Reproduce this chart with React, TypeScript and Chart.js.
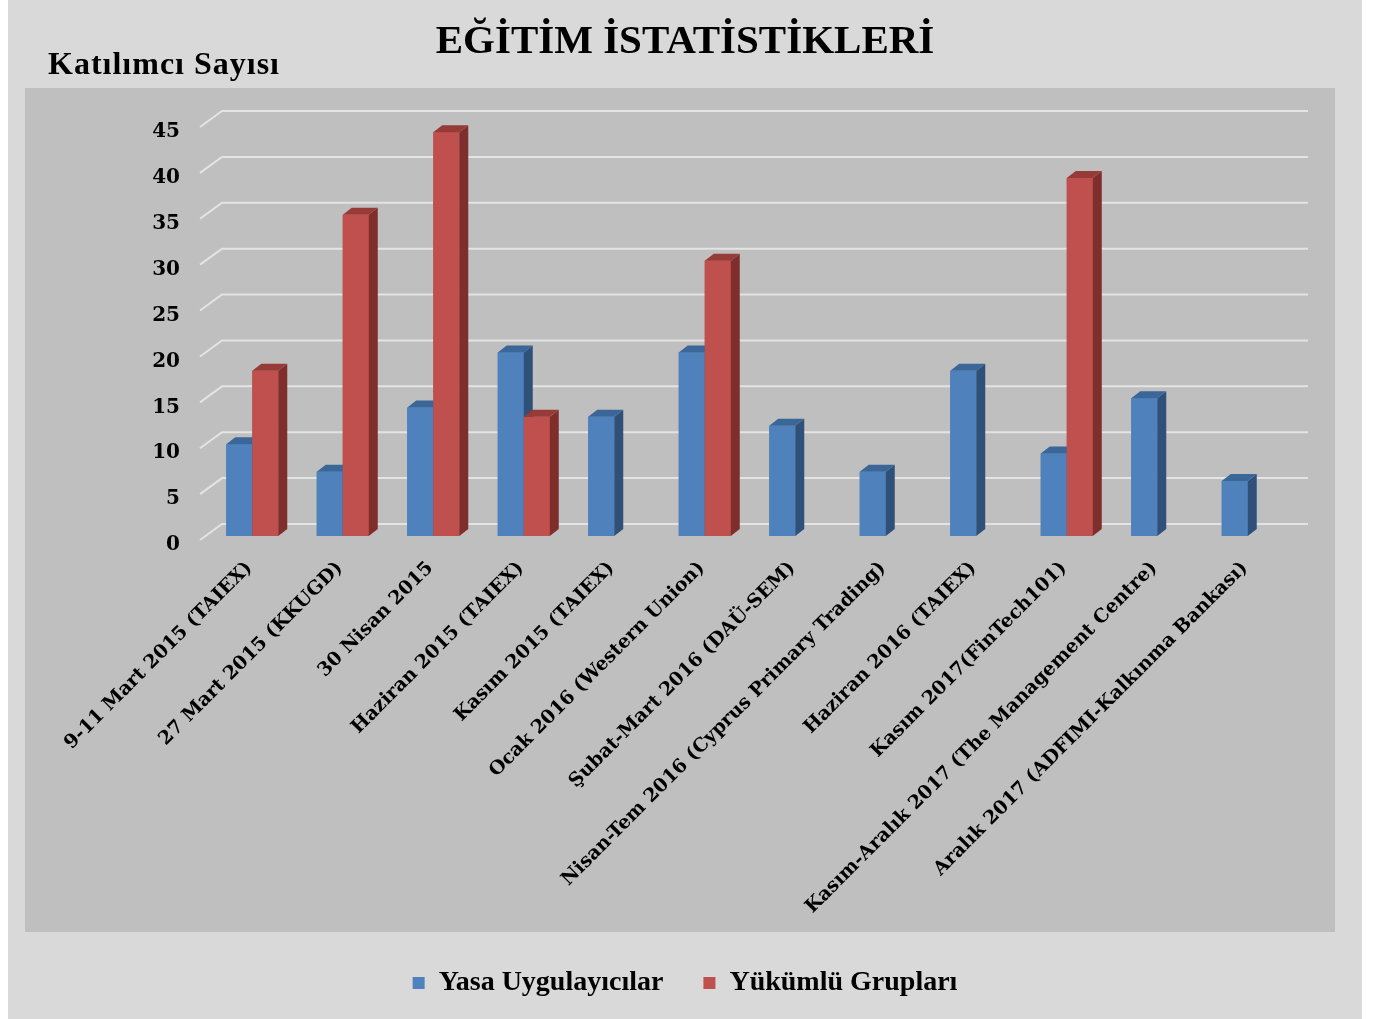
import React, { useEffect, useRef } from 'react';
import { Chart, registerables } from 'chart.js';

Chart.register(...registerables);

const categories = [
  '9-11 Mart 2015 (TAIEX)',
  '27 Mart 2015 (KKUGD)',
  '30 Nisan 2015',
  'Haziran 2015 (TAIEX)',
  'Kasım 2015 (TAIEX)',
  'Ocak 2016 (Western Union)',
  'Şubat-Mart 2016 (DAÜ-SEM)',
  'Nisan-Tem 2016 (Cyprus Primary Trading)',
  'Haziran 2016 (TAIEX)',
  'Kasım 2017(FinTech101)',
  'Kasım-Aralık 2017 (The Management Centre)',
  'Aralık 2017 (ADFIMI-Kalkınma Bankası)',
];
const yasaUygulayicilar = [10, 7, 14, 20, 13, 20, 12, 7, 18, 9, 15, 6];
const yukumluGruplari = [18, 35, 44, 13, null, 30, null, null, null, 39, null, null];
const seriesNames = ['Yasa Uygulayıcılar', 'Yükümlü Grupları'];
const yMin = 0;
const yMax = 45;
const yStep = 5;
const titleText = 'EĞİTİM İSTATİSTİKLERİ';
const axisTitleText = 'Katılımcı Sayısı';

const FRONT = ['#4f81bd', '#c0504d'];
const SIDE = ['#2f5079', '#7f2e2c'];
const TOP = ['#3b6698', '#973b38'];
const DX = 9;
const DY = 7;

const threeDPlugin = {
  id: 'threeD',
  beforeDraw(chart: any) {
    const { ctx } = chart;
    ctx.save();
    ctx.fillStyle = '#d9d9d9';
    ctx.fillRect(0, 0, chart.width, chart.height);
    ctx.fillStyle = '#bfbfbf';
    ctx.fillRect(17, 88, 1310, 844);
    ctx.restore();
  },
  beforeDatasetsDraw(chart: any) {
    const { ctx, chartArea, scales } = chart;
    const y = scales.y;
    ctx.save();
    ctx.strokeStyle = '#e4e4e4';
    ctx.lineWidth = 2;
    y.ticks.forEach((t: any) => {
      const py = y.getPixelForValue(t.value);
      ctx.beginPath();
      ctx.moveTo(chartArea.left - 7, py + 4);
      ctx.lineTo(chartArea.left + 15, py - 12);
      ctx.lineTo(chartArea.right + 15, py - 12);
      ctx.stroke();
    });
    ctx.fillStyle = '#000';
    ctx.font = 'bold 32px "Liberation Serif"';
    ctx.textBaseline = 'middle';
    ctx.textAlign = 'left';
    try { (ctx as any).letterSpacing = '1px'; } catch (e) {}
    ctx.fillText(axisTitleText, 40, 66);
    ctx.restore();
  },
  afterDatasetsDraw(chart: any) {
    const { ctx } = chart;
    ctx.save();
    [0, 1].forEach((di) => {
      const meta = chart.getDatasetMeta(di);
      const data = chart.data.datasets[di].data;
      meta.data.forEach((bar: any, j: number) => {
        if (data[j] == null) return;
        const { x, y, base, width } = bar.getProps(['x', 'y', 'base', 'width'], true);
        const l = x - width / 2;
        const r = x + width / 2;
        ctx.fillStyle = FRONT[di];
        ctx.fillRect(l, y, width, base - y);
        ctx.fillStyle = SIDE[di];
        ctx.beginPath();
        ctx.moveTo(r, y);
        ctx.lineTo(r + DX, y - DY);
        ctx.lineTo(r + DX, base - DY);
        ctx.lineTo(r, base);
        ctx.closePath();
        ctx.fill();
        ctx.fillStyle = TOP[di];
        ctx.beginPath();
        ctx.moveTo(l, y);
        ctx.lineTo(l + DX, y - DY);
        ctx.lineTo(r + DX, y - DY);
        ctx.lineTo(r, y);
        ctx.closePath();
        ctx.fill();
      });
    });
    ctx.restore();
  },
};

export default function App() {
  const ref = useRef<HTMLCanvasElement | null>(null);
  useEffect(() => {
    if (!ref.current) return;
    const chart = new Chart(ref.current, {
      type: 'bar',
      data: {
        labels: categories,
        datasets: [
          { label: seriesNames[0], data: yasaUygulayicilar, backgroundColor: FRONT[0], borderWidth: 0 },
          { label: seriesNames[1], data: yukumluGruplari as any, backgroundColor: FRONT[1], borderWidth: 0 },
        ],
      },
      options: {
        responsive: false,
        animation: false,
        categoryPercentage: 0.575,
        barPercentage: 1,
        layout: { padding: { left: 69, right: 69, top: 0, bottom: 12 } },
        plugins: {
          title: {
            display: true,
            text: titleText,
            color: '#000',
            font: { family: 'Liberation Serif', size: 41, weight: 'bold', lineHeight: 1.2 },
            padding: { top: 18, bottom: 55.8 },
          },
          legend: {
            position: 'bottom',
            labels: {
              color: '#000',
              font: { family: 'Liberation Serif', size: 28, weight: 'bold' },
              boxWidth: 12,
              boxHeight: 12,
              padding: 40,
            },
          },
          tooltip: { enabled: false },
        },
        scales: {
          x: {
            grid: { display: false, drawTicks: false },
            border: { display: false },
            ticks: {
              autoSkip: false,
              maxRotation: 45,
              minRotation: 45,
              color: '#000',
              padding: 21,
              labelOffset: -3,
              font: { family: 'DejaVu Serif', size: 19, weight: 'bold' },
            },
            afterFit(s: any) { s.height = 393; },
          },
          y: {
            min: yMin,
            max: yMax,
            grid: { display: false, drawTicks: false },
            border: { display: false },
            ticks: {
              stepSize: yStep,
              color: '#000',
              padding: 27,
              labelOffset: 9,
              font: { family: 'DejaVu Serif', size: 20, weight: 'bold' },
            },
            afterFit(s: any) { s.width = 130; },
          },
        },
      } as any,
      plugins: [threeDPlugin],
    });
    return () => chart.destroy();
  }, []);
  return (
    <div style={{ position: 'absolute', left: 8, top: 0, width: 1354, height: 1019 }}>
      <canvas ref={ref} width={1354} height={1019} style={{ display: 'block', width: 1354, height: 1019 }} />
    </div>
  );
}
